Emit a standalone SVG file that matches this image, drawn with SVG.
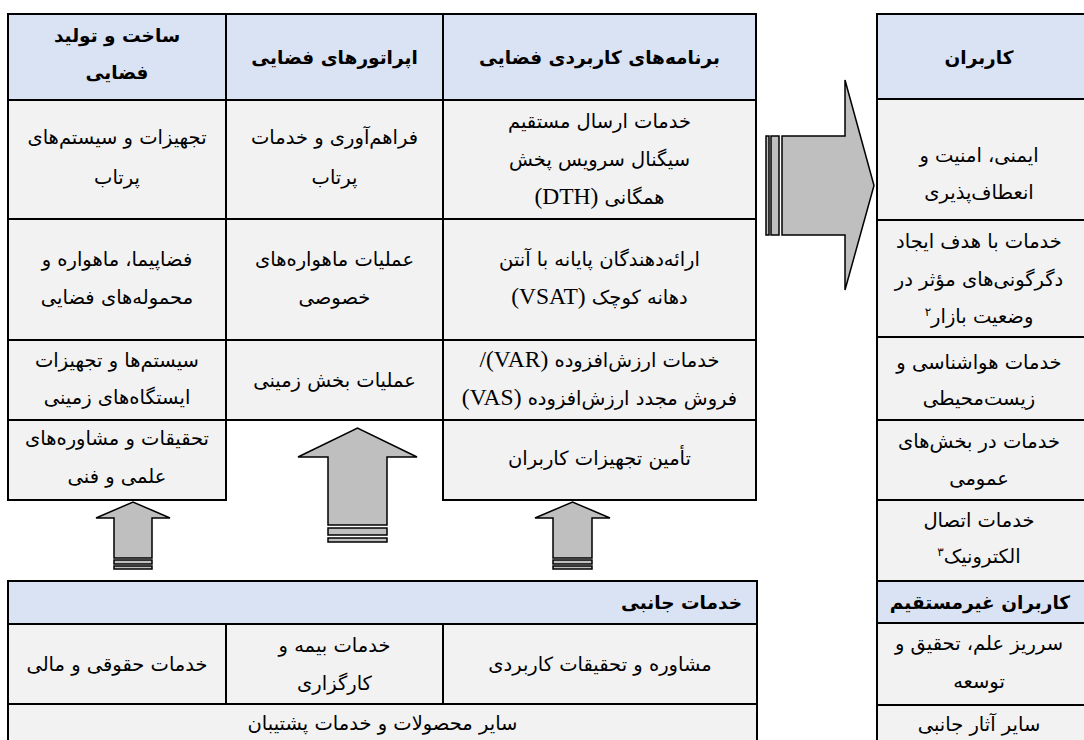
<svg xmlns="http://www.w3.org/2000/svg" width="1084" height="740" viewBox="0 0 1084 740">
  <style>
    .hdr { fill: #dae3f3; stroke: #000; stroke-width: 2; }
    .cell { fill: #f2f2f2; stroke: #000; stroke-width: 2; }
    .t { font-family: "DejaVu Sans", sans-serif; font-size: 19.5px; fill: #000; text-anchor: middle; direction: rtl; }
    .b { font-weight: bold; font-size: 18.5px; }
    .lat { font-family: "Liberation Serif", serif; font-size: 23.5px; }
    .sup { font-size: 12px; }
    .arrow { fill: #bfbfbf; stroke: #000; stroke-width: 1.5; stroke-linejoin: miter; }
  </style>

  <!-- value-chain table: headers -->
  <g id="h-manufacturing">
    <rect class="hdr" x="8" y="14" width="218" height="86"/>
    <text class="t b" x="117" y="42">ساخت و تولید</text>
    <text class="t b" x="117" y="79">فضایی</text>
  </g>
  <g id="h-operators">
    <rect class="hdr" x="226" y="14" width="217" height="86"/>
    <text class="t b" x="334.5" y="64">اپراتورهای فضایی</text>
  </g>
  <g id="h-applications">
    <rect class="hdr" x="443" y="14" width="313" height="86"/>
    <text class="t b" x="599.5" y="64">برنامه‌های کاربردی فضایی</text>
  </g>

  <!-- manufacturing column -->
  <g id="m-launch">
    <rect class="cell" x="8" y="100" width="218" height="119"/>
    <text class="t" x="117" y="144">تجهیزات و سیستم‌های</text>
    <text class="t" x="117" y="184">پرتاب</text>
  </g>
  <g id="m-spacecraft">
    <rect class="cell" x="8" y="219" width="218" height="121"/>
    <text class="t" x="117" y="266">فضاپیما، ماهواره و</text>
    <text class="t" x="117" y="304">محموله‌های فضایی</text>
  </g>
  <g id="m-ground">
    <rect class="cell" x="8" y="340" width="218" height="80"/>
    <text class="t" x="117" y="367">سیستم‌ها و تجهیزات</text>
    <text class="t" x="117" y="404">ایستگاه‌های زمینی</text>
  </g>
  <g id="m-research">
    <rect class="cell" x="8" y="420" width="218" height="80"/>
    <text class="t" x="117" y="445">تحقیقات و مشاوره‌های</text>
    <text class="t" x="117" y="483">علمی و فنی</text>
  </g>

  <!-- operators column -->
  <g id="o-launch">
    <rect class="cell" x="226" y="100" width="217" height="119"/>
    <text class="t" x="334.5" y="144">فراهم‌آوری و خدمات</text>
    <text class="t" x="334.5" y="184">پرتاب</text>
  </g>
  <g id="o-satellites">
    <rect class="cell" x="226" y="219" width="217" height="121"/>
    <text class="t" x="334.5" y="266">عملیات ماهواره‌های</text>
    <text class="t" x="334.5" y="304">خصوصی</text>
  </g>
  <g id="o-ground">
    <rect class="cell" x="226" y="340" width="217" height="80"/>
    <text class="t" x="334.5" y="387">عملیات بخش زمینی</text>
  </g>

  <!-- applications column -->
  <g id="a-dth">
    <rect class="cell" x="443" y="100" width="313" height="119"/>
    <text class="t" x="599.5" y="128">خدمات ارسال مستقیم</text>
    <text class="t" x="599.5" y="166">سیگنال سرویس پخش</text>
    <text class="t" x="599.5" y="204">همگانی <tspan class="lat">(DTH)</tspan></text>
  </g>
  <g id="a-vsat">
    <rect class="cell" x="443" y="219" width="313" height="121"/>
    <text class="t" x="599.5" y="266">ارائه‌دهندگان پایانه با آنتن</text>
    <text class="t" x="599.5" y="304">دهانه کوچک <tspan class="lat">(VSAT)</tspan></text>
  </g>
  <g id="a-var">
    <rect class="cell" x="443" y="340" width="313" height="80"/>
    <text class="t" x="599.5" y="367">خدمات ارزش‌افزوده <tspan class="lat">(VAR)/</tspan></text>
    <text class="t" x="599.5" y="405">فروش مجدد ارزش‌افزوده <tspan class="lat">(VAS)</tspan></text>
  </g>
  <g id="a-equipment">
    <rect class="cell" x="443" y="420" width="313" height="80"/>
    <text class="t" x="599.5" y="465">تأمین تجهیزات کاربران</text>
  </g>

  <!-- users table -->
  <g id="u-header">
    <rect class="hdr" x="877" y="14" width="220" height="85"/>
    <text class="t b" x="979" y="64">کاربران</text>
  </g>
  <g id="u-safety">
    <rect class="cell" x="877" y="99" width="220" height="121"/>
    <text class="t" x="979" y="162">ایمنی، امنیت و</text>
    <text class="t" x="979" y="199">انعطاف‌پذیری</text>
  </g>
  <g id="u-market">
    <rect class="cell" x="877" y="220" width="220" height="117"/>
    <text class="t" x="979" y="248">خدمات با هدف ایجاد</text>
    <text class="t" x="979" y="286">دگرگونی‌های مؤثر در</text>
    <text class="t" x="979" y="323">وضعیت بازار<tspan class="sup" baseline-shift="super">۲</tspan></text>
  </g>
  <g id="u-weather">
    <rect class="cell" x="877" y="337" width="220" height="83"/>
    <text class="t" x="979" y="369">خدمات هواشناسی و</text>
    <text class="t" x="979" y="405">زیست‌محیطی</text>
  </g>
  <g id="u-public">
    <rect class="cell" x="877" y="420" width="220" height="80"/>
    <text class="t" x="979" y="448">خدمات در بخش‌های</text>
    <text class="t" x="979" y="485">عمومی</text>
  </g>
  <g id="u-connect">
    <rect class="cell" x="877" y="500" width="220" height="81"/>
    <text class="t" x="979" y="527">خدمات اتصال</text>
    <text class="t" x="979" y="563">الکترونیک<tspan class="sup" baseline-shift="super">۳</tspan></text>
  </g>
  <g id="u-indirect">
    <rect class="hdr" x="877" y="581" width="220" height="42"/>
    <text class="t b" x="980" y="609">کاربران غیرمستقیم</text>
  </g>
  <g id="u-spillover">
    <rect class="cell" x="877" y="623" width="220" height="82"/>
    <text class="t" x="979" y="650">سرریز علم، تحقیق و</text>
    <text class="t" x="979" y="688">توسعه</text>
  </g>
  <g id="u-other">
    <rect class="cell" x="877" y="705" width="220" height="45"/>
    <text class="t" x="979" y="731">سایر آثار جانبی</text>
  </g>

  <!-- ancillary services table -->
  <g id="s-header">
    <rect class="hdr" x="8" y="581" width="749" height="43"/>
    <text class="t b" x="742" y="609" style="direction: ltr; text-anchor: end">خدمات جانبی</text>
  </g>
  <g id="s-legal">
    <rect class="cell" x="8" y="624" width="218" height="80"/>
    <text class="t" x="117" y="671">خدمات حقوقی و مالی</text>
  </g>
  <g id="s-insurance">
    <rect class="cell" x="226" y="624" width="217" height="80"/>
    <text class="t" x="334.5" y="652">خدمات بیمه و</text>
    <text class="t" x="334.5" y="690">کارگزاری</text>
  </g>
  <g id="s-consulting">
    <rect class="cell" x="443" y="624" width="314" height="80"/>
    <text class="t" x="600" y="671">مشاوره و تحقیقات کاربردی</text>
  </g>
  <g id="s-support">
    <rect class="cell" x="8" y="704" width="749" height="46"/>
    <text class="t" x="382.5" y="730">سایر محصولات و خدمات پشتیبان</text>
  </g>

  <!-- connectors: striped block arrows -->
  <g id="connectors">
    <!-- value chain to users -->
    <rect class="arrow" x="766" y="136" width="3" height="99"/>
    <rect class="arrow" x="771" y="136" width="8" height="99"/>
    <path class="arrow" d="M782,136 L845,136 L845,80 L874,185.5 L845,290 L845,235 L782,235 Z"/>

    <!-- ancillary services to manufacturing -->
    <path class="arrow" d="M114,558 L114,518 L96,518 L133,502 L170,518 L152,518 L152,558 Z"/>
    <rect class="arrow" x="114" y="560" width="38" height="4"/>
    <rect class="arrow" x="114" y="566" width="38" height="3"/>

    <!-- ancillary services to operators -->
    <path class="arrow" d="M328,525 L328,457 L298,457 L357.5,428 L417,457 L387,457 L387,525 Z"/>
    <rect class="arrow" x="328" y="528" width="59" height="7"/>
    <rect class="arrow" x="328" y="538" width="59" height="4"/>

    <!-- ancillary services to applications -->
    <path class="arrow" d="M553,558 L553,518 L535,518 L572.5,502 L610,518 L592,518 L592,558 Z"/>
    <rect class="arrow" x="553" y="560" width="39" height="4"/>
    <rect class="arrow" x="553" y="566" width="39" height="3"/>
  </g>
</svg>
